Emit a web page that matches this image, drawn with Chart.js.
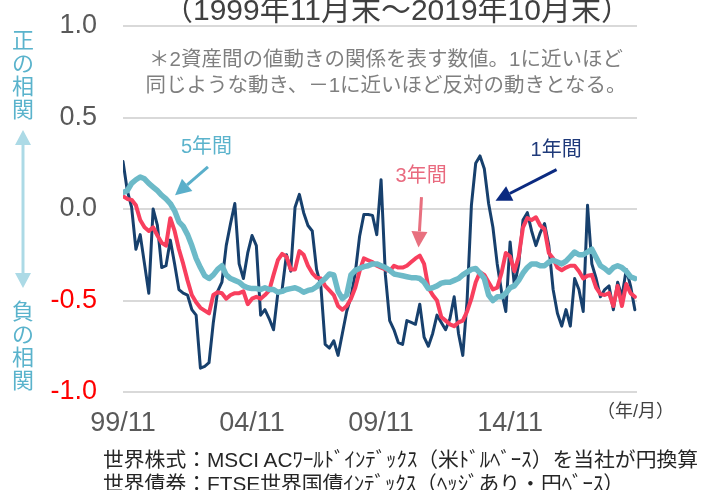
<!DOCTYPE html>
<html lang="ja">
<head>
<meta charset="utf-8">
<title>世界株式と世界債券の相関係数</title>
<script src="https://cdn.jsdelivr.net/npm/chart.js@4.4.1/dist/chart.umd.min.js"></script>
<style>
  html, body { margin: 0; padding: 0; background: #fff; }
  #wrap { position: relative; width: 702px; height: 490px; overflow: hidden;
          font-family: "Liberation Sans", "Noto Sans CJK JP", sans-serif; }
  #wrap canvas { position: absolute; left: 0; top: 0; }
  .txt { position: absolute; white-space: nowrap; line-height: 1; }
  .title { left: 397px; top: -5px; transform: translateX(-50%); font-size: 30px; color: #404040; }
  .note { left: 386px; transform: translateX(-50%); font-size: 20.5px; color: #7f7f7f; }
  .side { left: 11px; width: 24px; text-align: center; font-size: 22px; line-height: 23px; color: #5ab3cc; }
  .unit { left: 597px; top: 402px; font-size: 18px; color: #404040; }
  .foot { left: 103px; font-size: 20.8px; color: #262626; }
</style>
</head>
<body>
<div id="wrap">
  <canvas id="chart" width="702" height="490"></canvas>
  <div class="txt title">（1999年11月末～2019年10月末）</div>
  <div class="txt note" style="top:49px">＊2資産間の値動きの関係を表す数値。1に近いほど</div>
  <div class="txt note" style="top:75px">同じような動き、－1に近いほど反対の動きとなる。</div>
  <div class="txt side" style="top:29px">正<br>の<br>相<br>関</div>
  <div class="txt side" style="top:300px">負<br>の<br>相<br>関</div>
  <div class="txt unit">（年/月）</div>
  <div class="txt foot" style="top:450px">世界株式：MSCI ACﾜｰﾙﾄﾞｲﾝﾃﾞｯｸｽ（米ﾄﾞﾙﾍﾞｰｽ）を当社が円換算</div>
  <div class="txt foot" style="top:474px">世界債券：FTSE世界国債ｲﾝﾃﾞｯｸｽ（ﾍｯｼﾞあり・円ﾍﾞｰｽ）</div>
</div>
<script>
// correlation, read every 2 months from 1999/11
const oneYear = [
  0.26, 0.10, 0.01, -0.22, -0.14, -0.30, -0.46, 0.00, -0.09, -0.32,
  -0.31, -0.17, -0.30, -0.44, -0.46, -0.47, -0.55, -0.58, -0.87, -0.86,
  -0.84, -0.62, -0.45, -0.40, -0.20, -0.08, 0.03, -0.30, -0.38, -0.24,
  -0.145, -0.20, -0.58, -0.55, -0.60, -0.66, -0.46, -0.44, -0.25, -0.34,
  0.01, 0.08, -0.02, -0.09, -0.12, -0.33, -0.42, -0.74, -0.76, -0.72,
  -0.80, -0.68, -0.56, -0.48, -0.35, -0.15, -0.03, -0.03, -0.035, -0.14,
  0.16, -0.36, -0.61, -0.66, -0.73, -0.74, -0.61, -0.62, -0.63, -0.52,
  -0.70, -0.75, -0.68, -0.58, -0.62, -0.66, -0.60, -0.48, -0.68, -0.80,
  -0.50, 0.02, 0.25, 0.29, 0.22, 0.03, -0.10, -0.30, -0.45, -0.56,
  -0.18, -0.42, -0.30, -0.06, -0.02, -0.12, -0.20, -0.13, -0.08, -0.20,
  -0.44, -0.57, -0.64, -0.55, -0.64, -0.38, -0.44, -0.56, 0.02, -0.30,
  -0.38, -0.48, -0.44, -0.42, -0.55, -0.40, -0.48, -0.33, -0.42, -0.55
];
const threeYear = [
  0.07, 0.055, 0.05, 0.02, -0.06, -0.10, -0.12, -0.10, -0.145, -0.185,
  -0.20, -0.05, -0.12, -0.22, -0.30, -0.39, -0.47, -0.51, -0.54, -0.555,
  -0.57, -0.47, -0.455, -0.46, -0.49, -0.47, -0.46, -0.46, -0.45, -0.52,
  -0.49, -0.48, -0.49, -0.47, -0.445, -0.36, -0.28, -0.245, -0.26, -0.33,
  -0.33, -0.23, -0.25, -0.31, -0.35, -0.375, -0.38, -0.42, -0.445, -0.47,
  -0.53, -0.55, -0.53, -0.49, -0.43, -0.34, -0.27, -0.28, -0.29, -0.31,
  -0.32, -0.33, -0.34, -0.31, -0.32, -0.32, -0.31, -0.29, -0.27, -0.255,
  -0.30, -0.43, -0.47, -0.50, -0.59, -0.61, -0.63, -0.64, -0.62, -0.61,
  -0.56, -0.49, -0.40, -0.345, -0.36, -0.40, -0.44, -0.43, -0.35, -0.24,
  -0.26, -0.34, -0.26, -0.10, -0.05, -0.06, -0.045, -0.09, -0.11, -0.24,
  -0.27, -0.32, -0.335, -0.32, -0.31, -0.31, -0.34, -0.38, -0.365, -0.36,
  -0.43, -0.465, -0.47, -0.46, -0.53, -0.42, -0.53, -0.41, -0.46, -0.48
];
const fiveYear = [
  0.09, 0.10, 0.14, 0.16, 0.175, 0.165, 0.14, 0.12, 0.10, 0.075,
  0.055, 0.03, -0.01, -0.07, -0.095, -0.14, -0.20, -0.27, -0.32, -0.365,
  -0.38, -0.36, -0.33, -0.31, -0.36, -0.38, -0.39, -0.40, -0.42, -0.43,
  -0.435, -0.435, -0.44, -0.43, -0.44, -0.44, -0.455, -0.45, -0.44, -0.435,
  -0.43, -0.44, -0.455, -0.445, -0.44, -0.425, -0.40, -0.38, -0.355, -0.36,
  -0.45, -0.49, -0.47, -0.36, -0.335, -0.325, -0.315, -0.31, -0.30, -0.30,
  -0.31, -0.32, -0.335, -0.355, -0.36, -0.365, -0.37, -0.375, -0.375, -0.38,
  -0.40, -0.435, -0.43, -0.42, -0.405, -0.40, -0.40, -0.39, -0.38, -0.36,
  -0.345, -0.33, -0.325, -0.35, -0.38, -0.47, -0.50, -0.48, -0.48, -0.46,
  -0.43, -0.42, -0.39, -0.35, -0.32, -0.30, -0.30, -0.31, -0.31, -0.29,
  -0.28, -0.29, -0.30, -0.285, -0.26, -0.235, -0.25, -0.25, -0.235, -0.22,
  -0.265, -0.31, -0.325, -0.345, -0.32, -0.31, -0.32, -0.34, -0.37, -0.38
];
// months since 1999/11 for each reading
const monthIdx = oneYear.map((_, k) => k * 2);
const tickMonths = [0, 60, 120, 180];
const tickLabels = ["99/11", "04/11", "09/11", "14/11"];
const yTicks = [1.0, 0.5, 0.0, -0.5, -1.0];

// callouts, in (month, value) units
const callouts = [
  { text: "5年間", color: "#5bb3cc", arrow: "#5aafca", at: [38.8, 0.335], from: [39.5, 0.23], to: [24.2, 0.075] },
  { text: "3年間", color: "#e96a7f", arrow: "#e8707f", at: [138.6, 0.18], from: [138.8, 0.065], to: [137.4, -0.21] },
  { text: "1年間", color: "#1f3a7a", arrow: "#0b2a80", at: [201.4, 0.32], from: [201.6, 0.215], to: [173.2, 0.045] }
];

function pts(vals) {
  return vals.map((v, k) => ({ x: monthIdx[k], y: v }));
}

function drawArrow(ctx, x1, y1, x2, y2, color, lw, hl, hw) {
  const a = Math.atan2(y2 - y1, x2 - x1);
  const bx = x2 - hl * Math.cos(a), by = y2 - hl * Math.sin(a);
  ctx.strokeStyle = color;
  ctx.fillStyle = color;
  ctx.lineWidth = lw;
  ctx.beginPath();
  ctx.moveTo(x1, y1);
  ctx.lineTo(bx, by);
  ctx.stroke();
  ctx.beginPath();
  ctx.moveTo(x2, y2);
  ctx.lineTo(bx + hw / 2 * Math.sin(a), by - hw / 2 * Math.cos(a));
  ctx.lineTo(bx - hw / 2 * Math.sin(a), by + hw / 2 * Math.cos(a));
  ctx.closePath();
  ctx.fill();
}

const extras = {
  id: "extras",
  afterDraw(chart) {
    const { ctx, scales: { x, y } } = chart;
    ctx.save();
    // side arrow between 正の相関 / 負の相関
    const sx = 23, top = 130, bot = 288;
    drawArrow(ctx, sx, (top + bot) / 2, sx, top, "#acdae6", 3, 15, 16);
    drawArrow(ctx, sx, (top + bot) / 2, sx, bot, "#acdae6", 3, 15, 16);
    ctx.font = '20px "Liberation Sans", "Noto Sans CJK JP", sans-serif';
    ctx.textAlign = "center";
    ctx.textBaseline = "middle";
    callouts.forEach(c => {
      ctx.fillStyle = c.color;
      ctx.fillText(c.text, x.getPixelForValue(c.at[0]), y.getPixelForValue(c.at[1]));
      drawArrow(ctx,
        x.getPixelForValue(c.from[0]), y.getPixelForValue(c.from[1]),
        x.getPixelForValue(c.to[0]), y.getPixelForValue(c.to[1]),
        c.arrow, 3, 16, 16);
    });
    ctx.restore();
  }
};

new Chart(document.getElementById("chart"), {
  type: "line",
  data: {
    datasets: [
      { label: "5年間", data: pts(fiveYear), borderColor: "#6cbac8", borderWidth: 5.5, order: 1 },
      { label: "3年間", data: pts(threeYear), borderColor: "#f83f5e", borderWidth: 4, order: 2 },
      { label: "1年間", data: pts(oneYear), borderColor: "#17406d", borderWidth: 3, order: 3 }
    ]
  },
  options: {
    responsive: false,
    animation: false,
    layout: { padding: { top: 26, right: 65, left: 0, bottom: 0 } },
    elements: {
      point: { radius: 0 },
      line: { tension: 0, borderJoinStyle: "round", borderCapStyle: "round" }
    },
    plugins: { legend: { display: false }, tooltip: { enabled: false } },
    scales: {
      x: {
        type: "linear",
        min: 0,
        max: 239,
        afterFit: s => { s.height = 98; s.paddingLeft = 0; s.paddingRight = 0; },
        afterBuildTicks: s => { s.ticks = tickMonths.map(v => ({ value: v })); },
        grid: { display: false },
        border: { display: false },
        ticks: {
          padding: 7,
          maxRotation: 0,
          autoSkip: false,
          color: "#595959",
          font: { family: "Liberation Sans", size: 27 },
          callback: v => tickLabels[tickMonths.indexOf(v)]
        }
      },
      y: {
        min: -1,
        max: 1,
        afterFit: s => { s.width = 123; s.paddingTop = 0; s.paddingBottom = 0; },
        afterBuildTicks: s => { s.ticks = yTicks.map(v => ({ value: v })); },
        grid: { color: "#d9d9d9", lineWidth: 2, drawTicks: false },
        border: { display: false },
        ticks: {
          padding: 26,
          color: c => (c.tick.value < 0 ? "#ff0000" : "#595959"),
          font: { family: "Liberation Sans", size: 27 },
          callback: v => v.toFixed(1)
        }
      }
    }
  },
  plugins: [extras]
});
</script>
</body>
</html>
